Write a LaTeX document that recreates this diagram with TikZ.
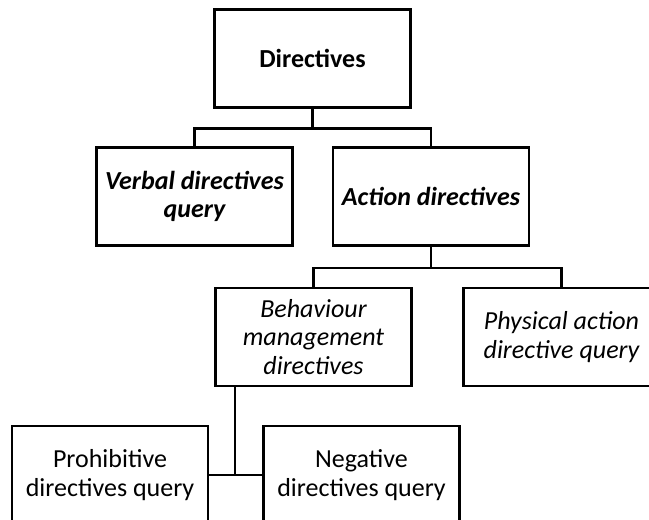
\documentclass[tikz,border=0pt]{standalone}
\usepackage{fontspec}
\setmainfont{Carlito}
\begin{document}
\begin{tikzpicture}[x=0.75pt,y=-0.75pt,
  box/.style={draw=black,line width=1.7pt,rectangle,minimum width=147pt,minimum height=73.5pt,
    inner sep=0pt,align=center,font=\fontsize{19.5}{21.5}\selectfont},
  link/.style={draw=black,line width=1.7pt}]
\path[use as bounding box,clip] (0,0) rectangle (649,520);
\fill[white] (0,0) rectangle (649,520);
\node[box,font=\fontsize{19.5}{21.5}\selectfont\bfseries] (dir) at (312.5,58.5) {Directives};
\node[box,font=\fontsize{19.5}{21.5}\selectfont\bfseries\itshape] (verb) at (194.5,196.5) {Verbal directives\\query};
\node[box,font=\fontsize{19.5}{21.5}\selectfont\bfseries\itshape] (act) at (431,196.5) {Action directives};
\node[box,font=\fontsize{19.5}{21.5}\selectfont\itshape] (beh) at (313.5,337) {Behaviour\\management\\directives};
\node[box,font=\fontsize{19.5}{21.5}\selectfont\itshape] (phys) at (561.5,337) {Physical action\\directive query};
\node[box] (prob) at (110,475) {Prohibitive\\directives query};
\node[box] (neg) at (361.5,475) {Negative\\directives query};
\coordinate (j) at (235,475);
\draw[link] (dir.south) -- ++(0,20) -| (verb.north);
\draw[link] (dir.south) -- ++(0,20) -| (act.north);
\draw[link] (act.south) -- ++(0,21) -| (beh.north);
\draw[link] (act.south) -- ++(0,21) -| (phys.north);
\draw[link] (beh.south -| j) -- (j);
\draw[link] (prob.east) -- (neg.west);
\end{tikzpicture}
\end{document}
